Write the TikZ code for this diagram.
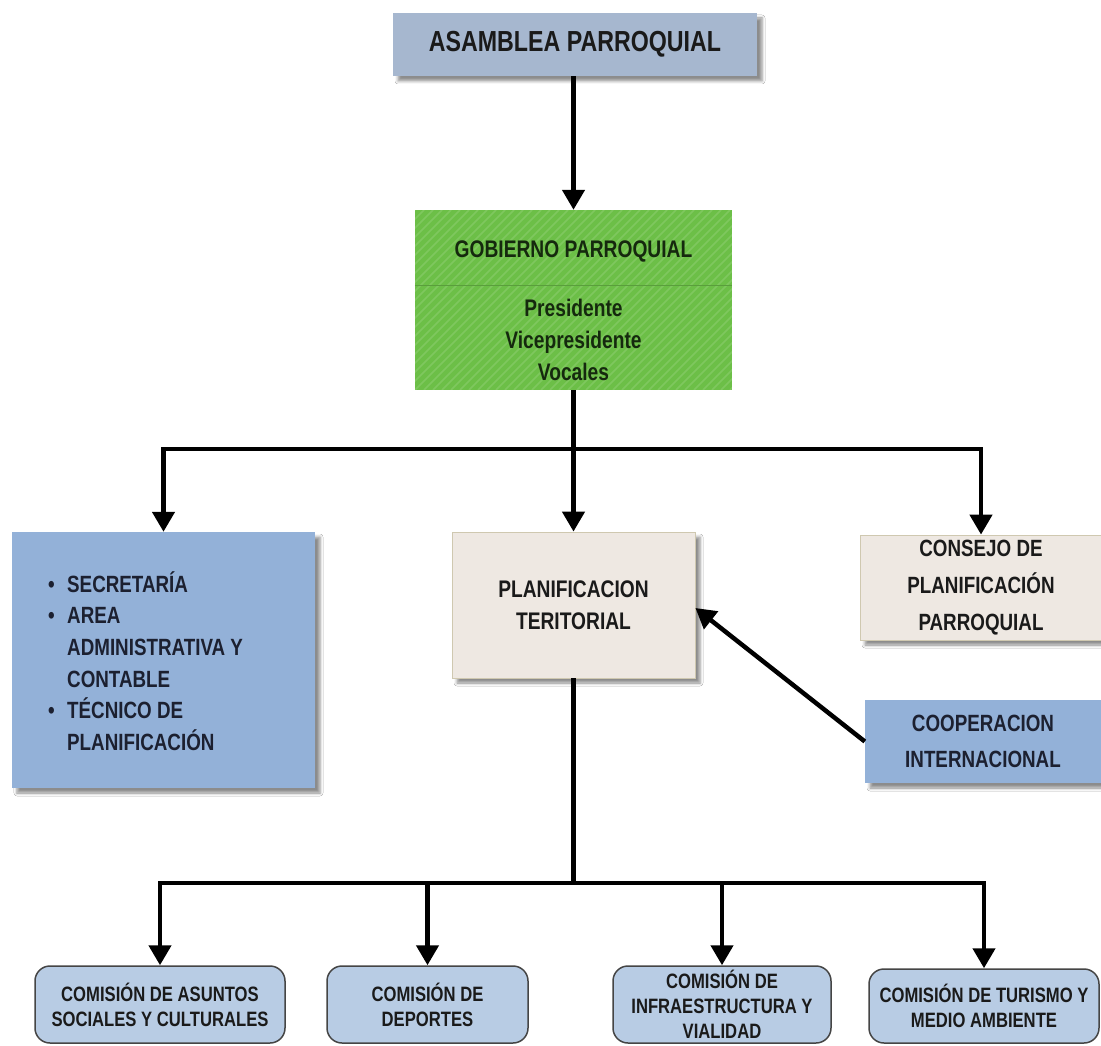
\documentclass[tikz,border=0pt]{standalone}
\usepackage{fontspec}
\setmainfont{Liberation Sans}
\newfontfamily\nar{Liberation Sans}[FakeStretch=0.8]
\usetikzlibrary{arrows.meta,shadows.blur,calc}
\definecolor{asamc}{HTML}{A6B7CF}
\definecolor{gobc}{HTML}{6CBF47}
\definecolor{gobl}{HTML}{5A9E3C}
\definecolor{leftc}{HTML}{93B1D8}
\definecolor{parch}{HTML}{EEE8E2}
\definecolor{parchb}{HTML}{CFC8B0}
\definecolor{botc}{HTML}{B8CCE4}
\definecolor{botb}{HTML}{454545}
\definecolor{txt}{HTML}{1A1A1A}
\definecolor{btxt}{HTML}{1C2030}
\definecolor{gtxt}{HTML}{15290E}
\tikzset{
  conn/.style={line width=4.5pt, black},
  arr/.style={conn, -{Triangle[width=22pt,length=20pt]}},
  box/.style={rectangle, inner sep=0pt, align=center, text=txt},
  shadowed/.style={blur shadow={shadow xshift=5pt, shadow yshift=-5pt, shadow blur radius=3pt, shadow opacity=45}},
  big/.style={font=\nar\bfseries\fontsize{24}{32}\selectfont},
  botbox/.style={box, fill=botc, draw=botb, line width=1.5pt, rounded corners=15pt,
    font=\nar\bfseries\fontsize{20.8}{25}\selectfont, minimum height=77pt},
}
\begin{document}
\begin{tikzpicture}[x=1pt,y=-1pt]
\useasboundingbox (0,0) rectangle (1101,1046);
\fill[white] (0,0) rectangle (1101,1046);

% top
\node[box, fill=asamc, minimum width=364pt, minimum height=63pt, shadowed,
  font=\nar\bfseries\fontsize{29}{34}\selectfont] (asam) at (575,44.5) {ASAMBLEA PARROQUIAL};

\node[box, fill=gobc, minimum width=317pt, minimum height=180pt] (gob) at (573.5,300) {};
\begin{scope}
  \clip (gob.north west) rectangle (gob.south east);
  \foreach \k in {0,9,...,520} {
    \draw[white, opacity=0.13, line width=1.6pt] (415+\k-180,390) -- (415+\k,210);
  }
\end{scope}
\draw[gobl, line width=1pt] (gob.west |- 0,285) -- (gob.east |- 0,285);
\node[box, big, text=gtxt] (gobt) at (573.5,251) {GOBIERNO PARROQUIAL};
\node[box, big, text=gtxt] (gobm) at (573.5,340) {Presidente\\Vicepresidente\\Vocales};

\draw[arr] (asam.south -| gob.north) -- (gob.north);

% middle row
\node[box, fill=leftc, minimum width=303pt, minimum height=256pt, shadowed] (left) at (163.5,660) {};
\node[anchor=west, align=left, inner sep=0pt, text=btxt,
  font=\nar\bfseries\fontsize{23.5}{31.6}\selectfont] (leftt) at (48,661)
  {\makebox[19pt][l]{\textbullet}SECRETARÍA\\
   \makebox[19pt][l]{\textbullet}AREA\\
   \makebox[19pt][l]{}ADMINISTRATIVA Y\\
   \makebox[19pt][l]{}CONTABLE\\
   \makebox[19pt][l]{\textbullet}TÉCNICO DE\\
   \makebox[19pt][l]{}PLANIFICACIÓN};

\node[box, big, fill=parch, draw=parchb, line width=0.8pt, minimum width=243pt, minimum height=146pt, shadowed] (cent) at (573.5,605) {PLANIFICACION\\TERITORIAL};

\node[box, fill=parch, draw=parchb, line width=0.8pt, minimum width=242pt, minimum height=105pt, shadowed,
  font=\nar\bfseries\fontsize{23.5}{37}\selectfont] (cons) at (981,587.5) {CONSEJO DE\\PLANIFICACIÓN\\PARROQUIAL};

\node[box, fill=leftc, minimum width=236pt, minimum height=83pt, shadowed, text=btxt,
  font=\nar\bfseries\fontsize{23.5}{36}\selectfont] (coop) at (983,741.5) {COOPERACION\\INTERNACIONAL};

\coordinate (j1) at (573.5,449);
\draw[conn] (gob.south) -- (j1);
\draw[arr] (j1) -| (left.north);
\draw[arr] (j1) -- (cent.north);
\draw[arr] (j1) -| (cons.north);

\draw[arr] (coop.west) -- ($(cent.east)+(0,3)$);

% bottom row
\node[botbox, minimum width=250pt] (b1) at (160,1004.5) {COMISIÓN DE ASUNTOS\\SOCIALES Y CULTURALES};
\node[botbox, minimum width=201pt] (b2) at (427.5,1004.5) {COMISIÓN DE\\DEPORTES};
\node[botbox, minimum width=218pt] (b3) at (722,1004.5) {COMISIÓN DE\\INFRAESTRUCTURA Y\\VIALIDAD};
\node[botbox, minimum width=230pt, minimum height=74pt] (b4) at (984,1006) {COMISIÓN DE TURISMO Y\\MEDIO AMBIENTE};

\coordinate (j2) at (573.5,883);
\draw[conn] (cent.south) -- (j2);
\draw[arr] (j2) -| (b1.north);
\draw[arr] (j2) -| (b2.north);
\draw[arr] (j2) -| (b3.north);
\draw[arr] (j2) -| (b4.north);
\end{tikzpicture}
\end{document}
